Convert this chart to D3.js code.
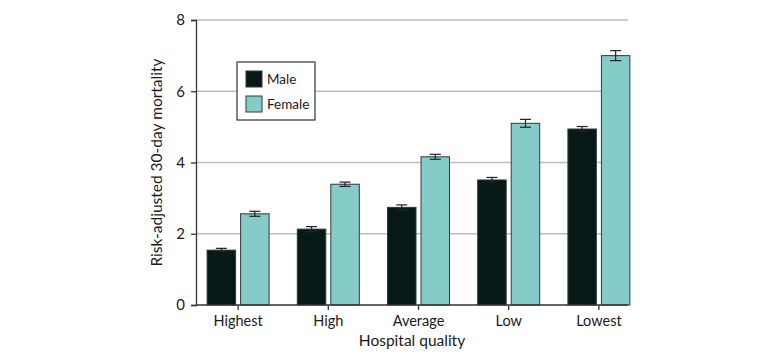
<!DOCTYPE html>
<html>
<head>
<meta charset="utf-8">
<script src="https://cdn.jsdelivr.net/npm/d3@7"></script>
<style>
  body { margin: 0; background: #fff; }
  text { font-family: "Lato", sans-serif; fill: #1a1a1a; }
</style>
</head>
<body>
<div id="chart"></div>
<script>
var categories = ["Highest", "High", "Average", "Low", "Lowest"];
var seriesNames = ["Male", "Female"];
var maleValues = [1.54, 2.13, 2.74, 3.51, 4.94];
var femaleValues = [2.56, 3.39, 4.16, 5.10, 7.00];
var maleErr = [0.05, 0.07, 0.07, 0.07, 0.07];
var femaleErr = [0.07, 0.06, 0.07, 0.11, 0.14];
var yTicks = [0, 2, 4, 6, 8];

function init(){
    var w = 780, h = 360;
    var left = 196, right = 628, top = 20, bottom = 305;

    var svg = d3.select("#chart").append("svg")
        .attr("width", w)
        .attr("height", h);

    var xScale = d3.scaleBand()
        .domain(categories)
        .range([193, 644]);

    var inner = d3.scaleBand()
        .domain(seriesNames)
        .range([-31, 31])
        .paddingInner(0.15);

    var yScale = d3.scaleLinear()
        .domain([0, 8])
        .range([bottom, top]);

    var color = d3.scaleOrdinal()
        .domain(seriesNames)
        .range(["#071917", "#85cbc8"]);

    // gridlines
    svg.selectAll("line.grid")
        .data(yTicks.filter(function(d){ return d > 0; }))
        .enter()
        .append("line")
        .attr("class", "grid")
        .attr("x1", left)
        .attr("x2", right)
        .attr("y1", function(d){ return yScale(d); })
        .attr("y2", function(d){ return yScale(d); })
        .attr("stroke", "#bdbdbd")
        .attr("stroke-width", 1.3);

    var rows = categories.map(function(c, i){
        return [
            { cat: c, key: "Male", v: maleValues[i], e: maleErr[i] },
            { cat: c, key: "Female", v: femaleValues[i], e: femaleErr[i] }
        ];
    });
    var flat = [].concat.apply([], rows);

    function cx(d){
        return xScale(d.cat) + xScale.bandwidth() / 2 + inner(d.key) + inner.bandwidth() / 2;
    }

    // bars
    svg.selectAll("rect.bar")
        .data(flat)
        .enter()
        .append("rect")
        .attr("class", "bar")
        .attr("x", function(d){ return cx(d) - inner.bandwidth() / 2; })
        .attr("y", function(d){ return yScale(d.v); })
        .attr("width", inner.bandwidth())
        .attr("height", function(d){ return yScale(0) - yScale(d.v); })
        .attr("fill", function(d){ return color(d.key); })
        .attr("stroke", "#2f3a3a")
        .attr("stroke-width", 1);

    // error bars
    var eb = svg.selectAll("g.err")
        .data(flat)
        .enter()
        .append("g")
        .attr("class", "err")
        .attr("stroke", "#222")
        .attr("stroke-width", 1.2);
    eb.append("line")
        .attr("x1", cx).attr("x2", cx)
        .attr("y1", function(d){ return yScale(d.v - d.e); })
        .attr("y2", function(d){ return yScale(d.v + d.e); });
    eb.append("line")
        .attr("x1", function(d){ return cx(d) - 5.5; })
        .attr("x2", function(d){ return cx(d) + 5.5; })
        .attr("y1", function(d){ return yScale(d.v + d.e); })
        .attr("y2", function(d){ return yScale(d.v + d.e); });
    eb.append("line")
        .attr("x1", function(d){ return cx(d) - 5.5; })
        .attr("x2", function(d){ return cx(d) + 5.5; })
        .attr("y1", function(d){ return yScale(d.v - d.e); })
        .attr("y2", function(d){ return yScale(d.v - d.e); });

    // y axis
    var yAxis = svg.append("g")
        .attr("transform", "translate(" + left + ",0)")
        .call(d3.axisLeft(yScale).tickValues(yTicks).tickSize(5).tickPadding(6));
    yAxis.select(".domain").attr("stroke", "#333").attr("stroke-width", 1.3);
    yAxis.selectAll(".tick line").attr("stroke", "#333").attr("stroke-width", 1.3);
    yAxis.selectAll(".tick text").attr("font-size", 15).style("font-family", null);

    // x axis
    var xAxis = svg.append("g")
        .attr("transform", "translate(0," + bottom + ")")
        .call(d3.axisBottom(xScale).tickSize(5).tickPadding(6));
    xAxis.select(".domain").remove();
    xAxis.append("line")
        .attr("x1", left).attr("x2", right)
        .attr("stroke", "#333").attr("stroke-width", 1.3);
    xAxis.selectAll(".tick line").attr("stroke", "#333").attr("stroke-width", 1.3);
    xAxis.selectAll(".tick text").attr("font-size", 14.5).style("font-family", null);

    // axis titles
    svg.append("text")
        .attr("x", (left + right) / 2)
        .attr("y", 346)
        .attr("text-anchor", "middle")
        .attr("font-size", 15.5)
        .text("Hospital quality");

    svg.append("text")
        .attr("transform", "translate(162," + ((top + bottom) / 2) + ") rotate(-90)")
        .attr("text-anchor", "middle")
        .attr("font-size", 15.5)
        .text("Risk-adjusted 30-day mortality");

    // legend
    var lg = svg.append("g").attr("transform", "translate(237,62)");
    lg.append("rect")
        .attr("width", 78).attr("height", 58)
        .attr("fill", "#fff")
        .attr("stroke", "#333").attr("stroke-width", 1.2);
    var items = lg.selectAll("g.item")
        .data(seriesNames)
        .enter()
        .append("g")
        .attr("transform", function(d, i){ return "translate(9," + (9 + i * 25) + ")"; });
    items.append("rect")
        .attr("width", 16).attr("height", 16)
        .attr("fill", function(d){ return color(d); })
        .attr("stroke", "#2f3a3a");
    items.append("text")
        .attr("x", 21)
        .attr("y", 13)
        .attr("font-size", 13.5)
        .text(function(d){ return d; });
}
window.onload = init;
</script>
</body>
</html>
